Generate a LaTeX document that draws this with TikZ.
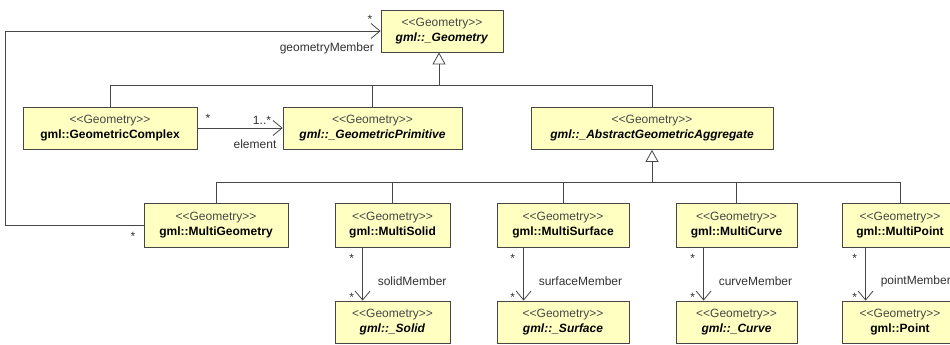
\documentclass[tikz,border=0pt]{standalone}
\usepackage{fontspec}
\setmainfont{Liberation Sans}
\usetikzlibrary{arrows.meta,calc}
\definecolor{clsfill}{RGB}{255,255,194}
\definecolor{linegray}{RGB}{70,70,70}
\definecolor{stgray}{RGB}{70,70,70}
\definecolor{txtgray}{RGB}{50,50,50}
\newcommand\stereo{{\color{stgray}<{}<Geometry>{}>}\\}
\begin{document}
\begin{tikzpicture}[x=1pt,y=-1pt,
  cls/.style={draw=linegray, fill=clsfill, line width=0.8pt, inner sep=0pt,
    align=center, font=\fontsize{12}{15}\selectfont, minimum height=42pt},
  gen/.style={draw=linegray, line width=0.8pt, -{Triangle[open,length=12pt,width=13pt]}},
  assoc/.style={draw=linegray, line width=0.8pt, -{Straight Barb[length=9pt,width=15pt]}},
  tree/.style={draw=linegray, line width=0.8pt},
  lbl/.style={font=\fontsize{12}{14}\selectfont, inner sep=0pt, text=txtgray}
]
\useasboundingbox (0,0) rectangle (950,345);
% classes
\node[cls, minimum width=122pt] (geo) at (442,31) {\stereo\textbf{\textit{gml::\_Geometry}}};
\node[cls, minimum width=174pt] (gc) at (110,128) {\stereo\textbf{gml::GeometricComplex}};
\node[cls, minimum width=179pt] (gp) at (372.5,128) {\stereo\textbf{\textit{gml::\_GeometricPrimitive}}};
\node[cls, minimum width=242pt] (aga) at (652,128.5) {\stereo\textbf{\textit{gml::\_AbstractGeometricAggregate}}};
\node[cls, minimum width=144pt, minimum height=44pt] (mg) at (216,225) {\stereo\textbf{gml::MultiGeometry}};
\node[cls, minimum width=115pt, minimum height=44pt] (ms) at (392.5,225) {\stereo\textbf{gml::MultiSolid}};
\node[cls, minimum width=132pt, minimum height=44pt] (msf) at (563,225) {\stereo\textbf{gml::MultiSurface}};
\node[cls, minimum width=121pt, minimum height=44pt] (mc) at (736.5,225) {\stereo\textbf{gml::MultiCurve}};
\node[cls, minimum width=116pt, minimum height=44pt] (mp) at (900,225) {\stereo\textbf{gml::MultiPoint}};
\node[cls, minimum width=115pt] (sol) at (392.5,322) {\stereo\textbf{\textit{gml::\_Solid}}};
\node[cls, minimum width=132pt] (sur) at (563,322) {\stereo\textbf{\textit{gml::\_Surface}}};
\node[cls, minimum width=121pt] (cur) at (736.5,322) {\stereo\textbf{\textit{gml::\_Curve}}};
\node[cls, minimum width=116pt] (pt) at (900,322) {\stereo\textbf{gml::Point}};
% generalization trees
\coordinate (j1) at (439,85);
\coordinate (j2) at (652,182);
\draw[gen] (j1) -- (j1 |- geo.south);
\draw[tree] (gc.north) |- (j1);
\draw[tree] (gp.north) -- (gp.north |- j1);
\draw[tree] (aga.north) |- (j1);
\draw[gen] (j2) -- (aga.south);
\draw[tree] (mg.north) |- (j2);
\draw[tree] (ms.north) -- (ms.north |- j2);
\draw[tree] (msf.north) -- (msf.north |- j2);
\draw[tree] (mc.north) -- (mc.north |- j2);
\draw[tree] (mp.north) |- (j2);
% association element
\draw[assoc] (gc.east) -- (gp.west);
\node[lbl] (ea) at (208,118) {*};
\node[lbl] (eb) at (262,120) {1..*};
\node[lbl] (ec) at (255,144) {element};
% association geometryMember
\coordinate (cbl) at (5,225);
\coordinate (ctl) at (5,31);
\draw[assoc] (mg.west) -- (cbl) -- (ctl) -- (geo.west);
\node[lbl] (ga) at (370,19) {*};
\node[lbl, anchor=east] (gb) at (374,48) {geometryMember};
\node[lbl] (gcs) at (133,236) {*};
% member associations
\foreach \s/\t/\r/\o in {ms/sol/solidMember/28, msf/sur/surfaceMember/27, mc/cur/curveMember/28, mp/pt/pointMember/24}{
  \draw[assoc] ($(\s.south west)+(\o,0)$) -- ($(\t.north west)+(\o,0)$);
  \node[lbl] at ($(\s.south west)+(\o-11,11)$) {*};
  \node[lbl] at ($(\t.north west)+(\o-11,-3)$) {*};
  \node[lbl, anchor=west] at ($(\s.south west)+(\o+15,34)$) {\r};
}
\end{tikzpicture}
\end{document}
